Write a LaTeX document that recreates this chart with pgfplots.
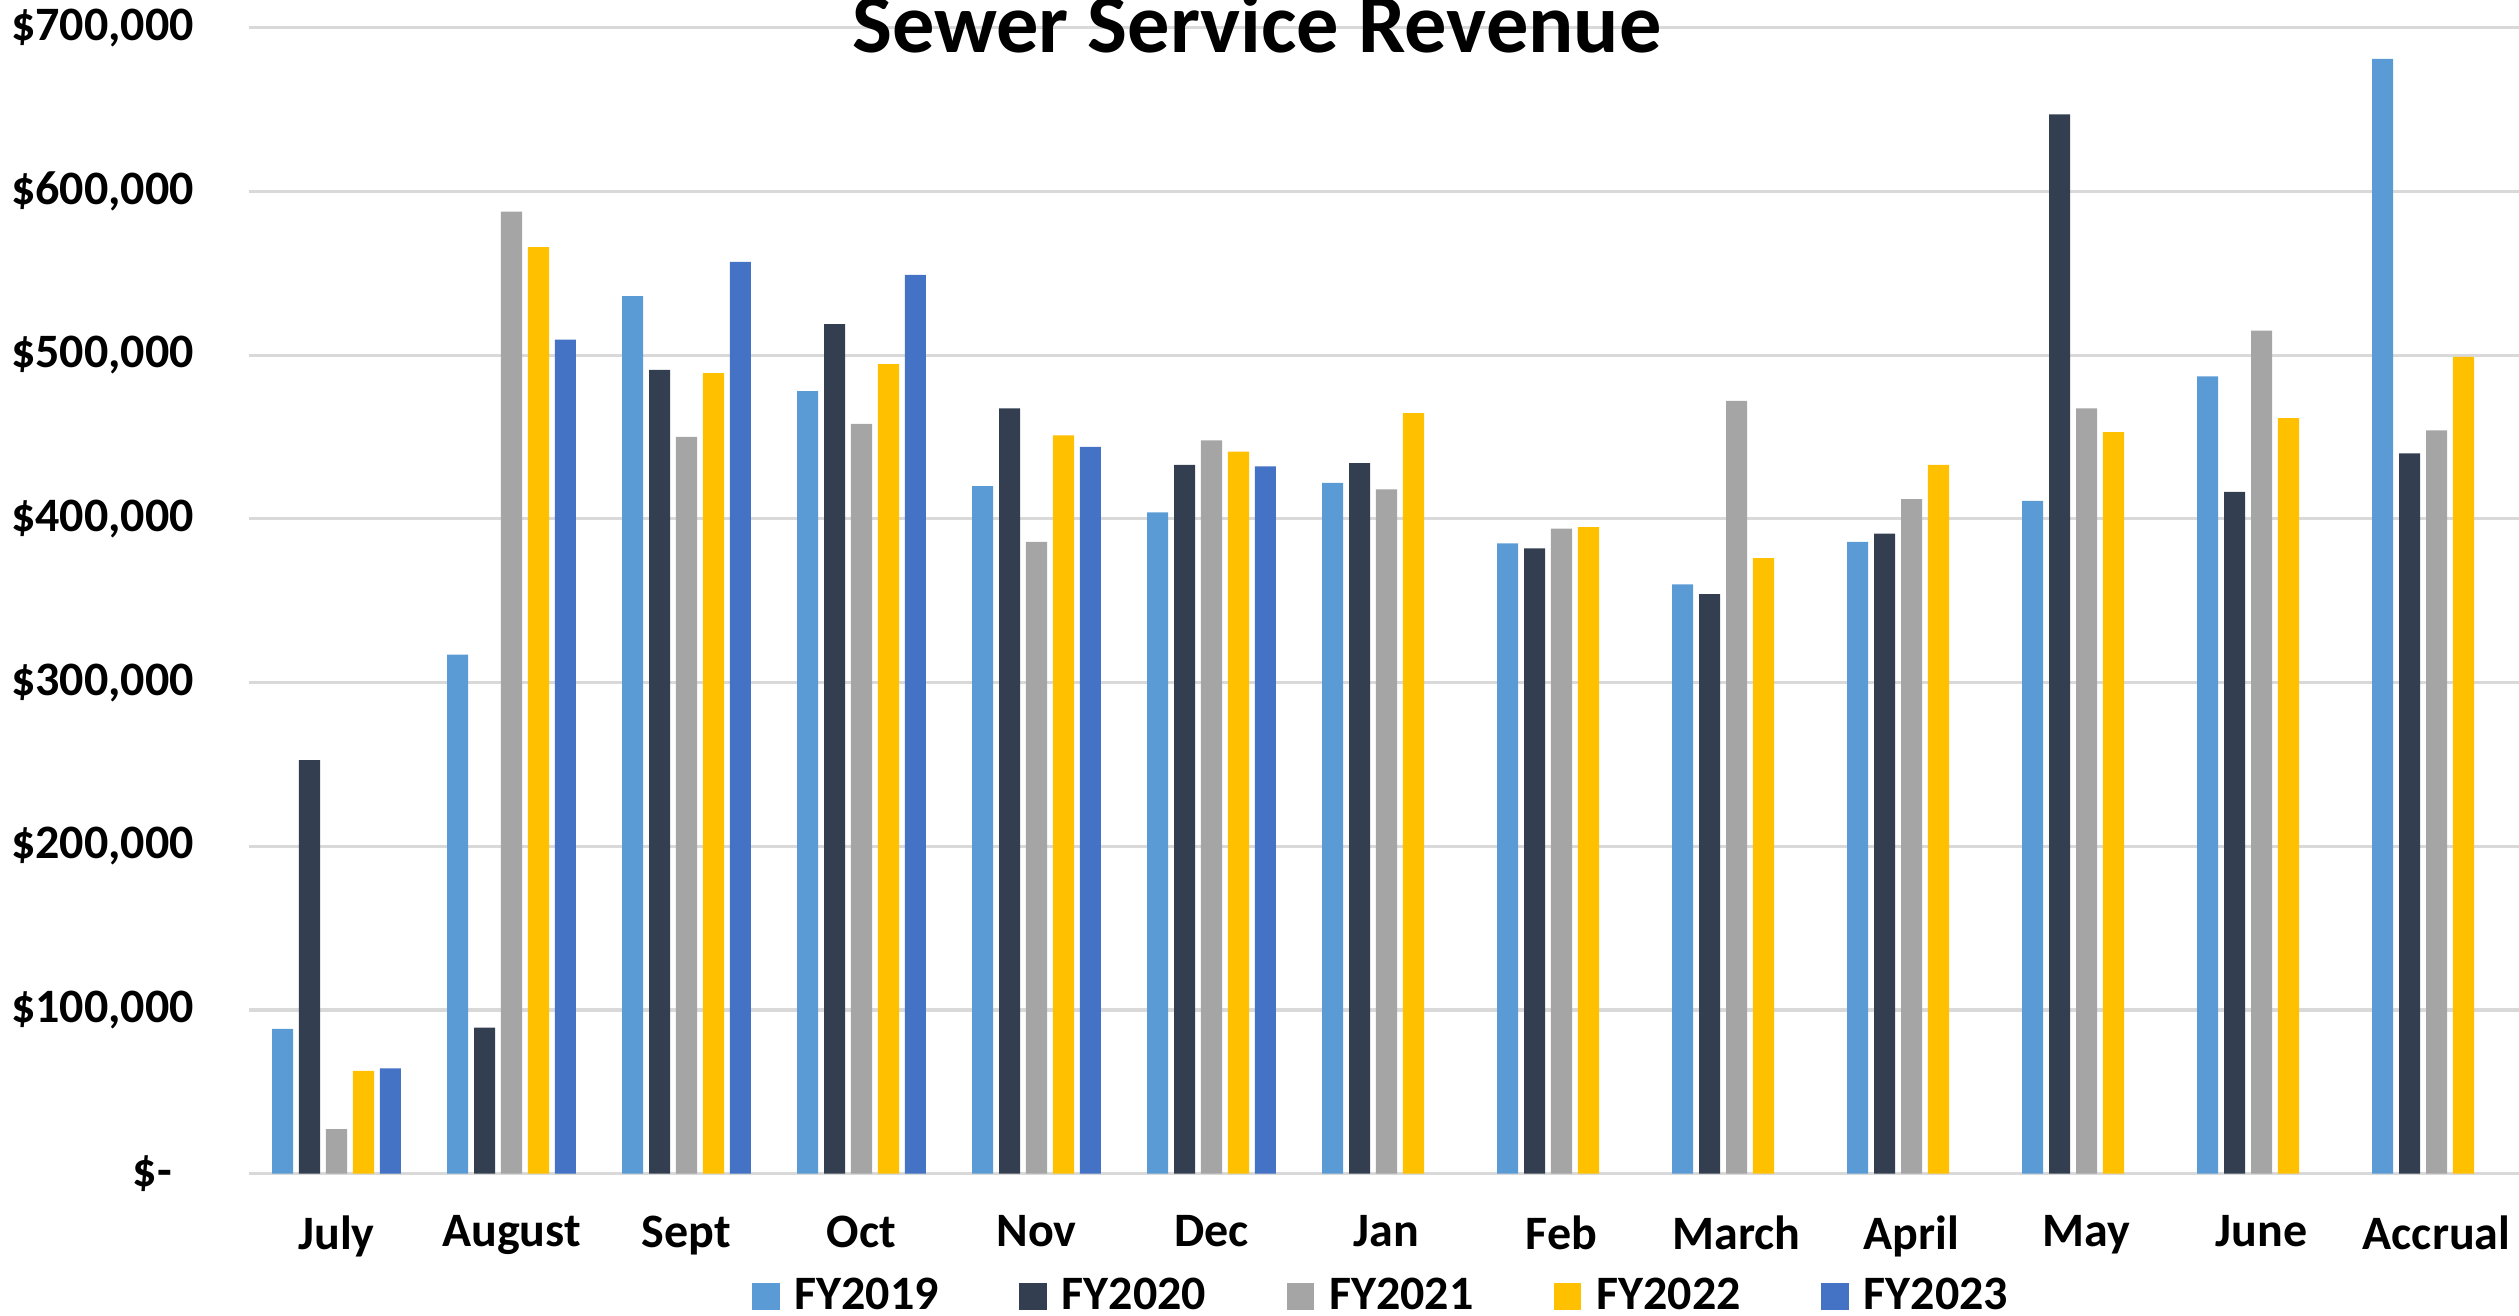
\documentclass[border=0pt]{standalone}
\usepackage{pgfplots}
\pgfplotsset{compat=1.18}
\usepackage{fontspec}
\setmainfont{Carlito}
\definecolor{cA}{HTML}{5B9BD5}
\definecolor{cB}{HTML}{333F50}
\definecolor{cC}{HTML}{A5A5A5}
\definecolor{cD}{HTML}{FFC000}
\definecolor{cE}{HTML}{4472C4}
\definecolor{gridc}{HTML}{D9D9D9}
\begin{document}
\begin{tikzpicture}
\begin{axis}[name=ax, at={(0,0)}, anchor=south west,
  scale only axis, width=567.5pt, height=286.5pt,
  xmin=-0.5, xmax=12.471, ymin=0, ymax=700000,
  enlargelimits=false,
  ybar, bar width=0.1206,
  axis line style={draw=none},
  major tick length=0pt,
  ymajorgrids, grid style={gridc, line width=0.8pt},
  xtick={0,1,2,3,4,5,6,7,8,9,10,11,12},
  xticklabels={July,August,Sept,Oct,Nov,Dec,Jan,Feb,March,April,May,June,Accrual},
  ytick={0,100000,200000,300000,400000,500000,600000,700000},
  yticklabels={{\$-\hspace*{5.5pt}},{\$100,000},{\$200,000},{\$300,000},{\$400,000},{\$500,000},{\$600,000},{\$700,000}},
  tick label style={font=\bfseries\fontsize{12}{14.4}\selectfont},
  xticklabel style={yshift=-7pt},
  yticklabel style={xshift=-10.25pt},
  legend columns=5,
  legend style={draw=none, fill=none, at={(0.5,-0.1073)}, anchor=center,
    font=\bfseries\fontsize{12}{14.4}\selectfont,
    /tikz/every even column/.append style={column sep=18.1pt}},
  legend image code/.code={\fill[#1] (0pt,-3.45pt) rectangle (6.9pt,3.45pt); \path (8.65pt,0pt);},
  scaled y ticks=false,
]
\addplot[fill=cA, draw=none, bar shift=-0.308] coordinates {
(0,88500) (1,317000) (2,536000) (3,478000) (4,420000) (5,404000) (6,422000)
(7,385000) (8,360000) (9,386000) (10,411000) (11,487000) (12,681000)};
\addplot[fill=cB, draw=none, bar shift=-0.154] coordinates {
(0,252600) (1,89200) (2,491000) (3,519000) (4,467500) (5,433000) (6,434000)
(7,382000) (8,354000) (9,391000) (10,647000) (11,416500) (12,440000)};
\addplot[fill=cC, draw=none, bar shift=0] coordinates {
(0,27200) (1,587700) (2,450000) (3,458000) (4,386000) (5,448000) (6,418000)
(7,394000) (8,472000) (9,412000) (10,467500) (11,515000) (12,454000)};
\addplot[fill=cD, draw=none, bar shift=0.154] coordinates {
(0,62800) (1,566000) (2,489000) (3,494500) (4,451000) (5,441000) (6,464500)
(7,395000) (8,376000) (9,433000) (10,453000) (11,461500) (12,499000)};
\addplot[fill=cE, draw=none, bar shift=0.308] coordinates {
(0,64300) (1,509500) (2,557000) (3,549000) (4,444000) (5,432000)};
\legend{FY2019,FY2020,FY2021,FY2022,FY2023}
\end{axis}
\node[anchor=base, font=\bfseries\fontsize{21.1}{25}\selectfont]
  at ([xshift=252pt,yshift=-6.25pt]ax.north west) {Sewer Service Revenue};
\pgfresetboundingbox
\path[use as bounding box] ([shift={(-62.25pt,-35.5pt)}]ax.south west) rectangle ([shift={(0pt,6.925pt)}]ax.north east);
\end{tikzpicture}
\end{document}
